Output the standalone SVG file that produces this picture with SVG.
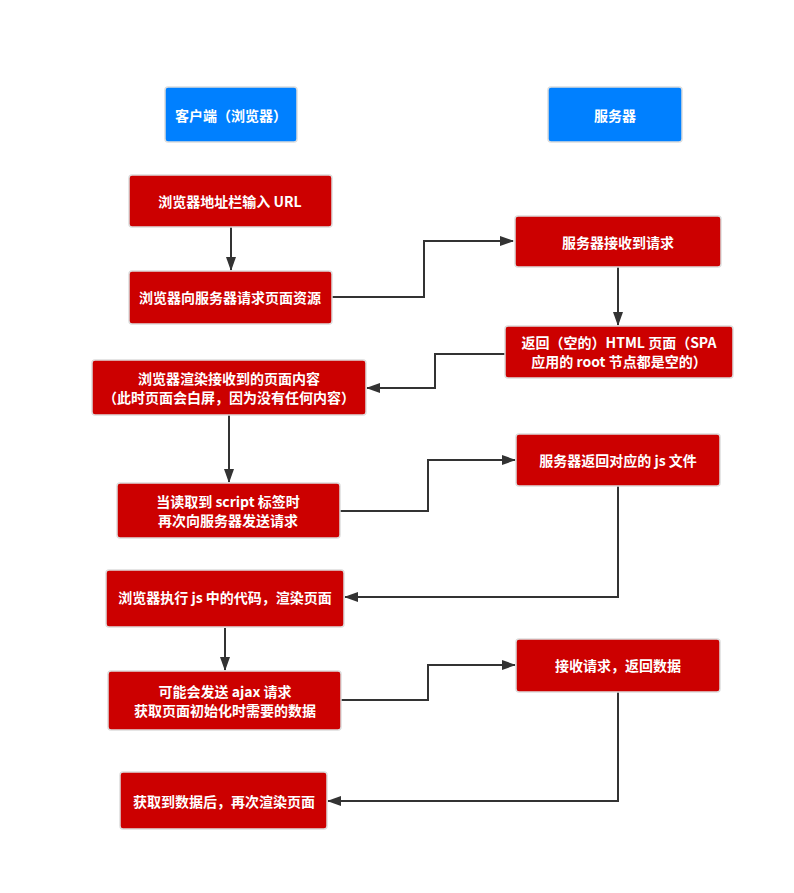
<svg xmlns="http://www.w3.org/2000/svg" width="794" height="893" viewBox="0 0 794 893">
<style>
.hdr{fill:#0080ff;stroke:#dddddd;stroke-width:1.5}
.box{fill:#cc0000;stroke:#dddddd;stroke-width:1.5}
text{font-family:"Microsoft YaHei","Noto Sans CJK SC","Noto Sans",sans-serif;font-size:14px;font-weight:bold;fill:#ffffff;text-anchor:middle;dominant-baseline:central}
.edge{fill:none;stroke:#333333;stroke-width:2}
</style>
<defs>
<marker id="arr" markerWidth="14" markerHeight="12" refX="13" refY="6" orient="auto" markerUnits="userSpaceOnUse">
<path d="M0,1 L14,6 L0,11 Z" fill="#333333"/>
</marker>
</defs>
<rect width="794" height="893" fill="#ffffff"/>
<g id="connectors">
<path class="edge" d="M231,227 V270" marker-end="url(#arr)"/>
<path class="edge" d="M332,297 H424 V241 H513" marker-end="url(#arr)"/>
<path class="edge" d="M618,267 V325" marker-end="url(#arr)"/>
<path class="edge" d="M505,354 H435 V388 H367" marker-end="url(#arr)"/>
<path class="edge" d="M229,415 V482" marker-end="url(#arr)"/>
<path class="edge" d="M340,511 H428 V460 H515" marker-end="url(#arr)"/>
<path class="edge" d="M618,486 V597 H345" marker-end="url(#arr)"/>
<path class="edge" d="M225,628 V670" marker-end="url(#arr)"/>
<path class="edge" d="M341,700 H428 V665 H515" marker-end="url(#arr)"/>
<path class="edge" d="M618,692 V801 H328" marker-end="url(#arr)"/>
</g>
<g id="client">
<rect class="hdr" x="165" y="87" width="132" height="55" rx="3"/>
<text x="231" y="115">客户端（浏览器）</text>
</g>
<g id="server">
<rect class="hdr" x="548" y="87" width="134" height="55" rx="3"/>
<text x="615" y="115">服务器</text>
</g>
<g id="n1">
<rect class="box" x="129" y="175" width="203" height="52" rx="3"/>
<text x="230" y="201">浏览器地址栏输入 URL</text>
</g>
<g id="n2">
<rect class="box" x="129" y="271" width="203" height="53" rx="3"/>
<text x="230" y="297">浏览器向服务器请求页面资源</text>
</g>
<g id="n3">
<rect class="box" x="515" y="216" width="206" height="51" rx="3"/>
<text x="618" y="242">服务器接收到请求</text>
</g>
<g id="n4">
<rect class="box" x="505" y="326" width="228" height="52" rx="3"/>
<text x="619" y="342">返回（空的）HTML 页面（SPA</text>
<text x="619" y="361">应用的 root 节点都是空的）</text>
</g>
<g id="n5">
<rect class="box" x="92" y="360" width="274" height="55" rx="3"/>
<text x="229" y="378">浏览器渲染接收到的页面内容</text>
<text x="229" y="397">（此时页面会白屏，因为没有任何内容）</text>
</g>
<g id="n6">
<rect class="box" x="516" y="434" width="204" height="52" rx="3"/>
<text x="618" y="460">服务器返回对应的 js 文件</text>
</g>
<g id="n7">
<rect class="box" x="117" y="483" width="223" height="55" rx="3"/>
<text x="228" y="501">当读取到 script 标签时</text>
<text x="228" y="520">再次向服务器发送请求</text>
</g>
<g id="n8">
<rect class="box" x="106" y="570" width="238" height="57" rx="3"/>
<text x="225" y="597">浏览器执行 js 中的代码，渲染页面</text>
</g>
<g id="n9">
<rect class="box" x="516" y="639" width="204" height="53" rx="3"/>
<text x="618" y="665">接收请求，返回数据</text>
</g>
<g id="n10">
<rect class="box" x="108" y="671" width="233" height="59" rx="3"/>
<text x="225" y="691">可能会发送 ajax 请求</text>
<text x="225" y="710">获取页面初始化时需要的数据</text>
</g>
<g id="n11">
<rect class="box" x="120" y="772" width="207" height="57" rx="3"/>
<text x="224" y="801">获取到数据后，再次渲染页面</text>
</g>
</svg>
